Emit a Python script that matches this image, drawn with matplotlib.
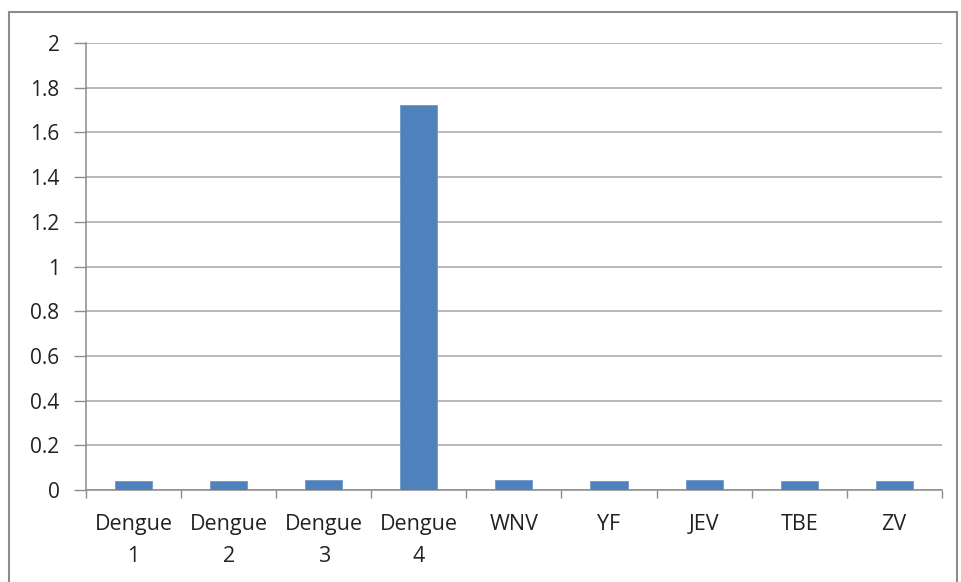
import numpy as np
import matplotlib
matplotlib.use('Agg')
from matplotlib import pyplot as plt
from matplotlib.patches import Rectangle

categories = ['Dengue\n1', 'Dengue\n2', 'Dengue\n3', 'Dengue\n4', 'WNV', 'YF', 'JEV', 'TBE', 'ZV']
values = [0.040, 0.040, 0.045, 1.725, 0.045, 0.040, 0.045, 0.040, 0.040]
yticks = [0, 0.2, 0.4, 0.6, 0.8, 1, 1.2, 1.4, 1.6, 1.8, 2]
ytickLabels = ['0', '0.2', '0.4', '0.6', '0.8', '1', '1.2', '1.4', '1.6', '1.8', '2']

plt.rcParams['font.family'] = ['Open Sans', 'DejaVu Sans']

fig = plt.figure(figsize=(9.61, 5.82), dpi=100)
ax = fig.add_axes([0.0895, 0.158, 0.8905, 0.768])

# outer chart border
fig.patches.append(Rectangle((9/961, -0.1), 948/961, 1 - 12/582 + 0.1,
                             transform=fig.transFigure, fill=False,
                             edgecolor='#8c8c8c', linewidth=1.5))

x = np.arange(len(categories))
ax.bar(x, values, width=0.39, color='#4f81bd', edgecolor='#6f97c8', linewidth=0.6, zorder=3)

ax.set_xlim(-0.5, len(categories) - 0.5)
ax.set_ylim(0, 2)
ax.set_yticks(yticks)
ax.set_yticklabels(ytickLabels, fontsize=15, color='#222222')
ax.yaxis.grid(True, color='#a6a6a6', linewidth=1.1, zorder=0)

ax.set_xticks(x)
ax.set_xticklabels(categories, fontsize=15.5, linespacing=1.7, color='#222222')
ax.tick_params(axis='x', length=0, pad=17)
ax.set_xticks(np.arange(len(categories) + 1) - 0.5, minor=True)
ax.tick_params(axis='x', which='minor', length=6, width=1, color='#8c8c8c', direction='out')
ax.tick_params(axis='y', length=9, width=1, color='#8c8c8c', direction='out', pad=10)

for side in ['top', 'right']:
    ax.spines[side].set_visible(False)
ax.spines['left'].set_color('#8c8c8c')
ax.spines['bottom'].set_color('#8c8c8c')
ax.spines['left'].set_linewidth(1.1)
ax.spines['bottom'].set_linewidth(1.1)

fig.savefig('out.png', dpi=100)
